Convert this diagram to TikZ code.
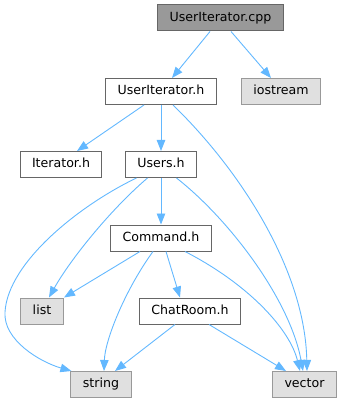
\documentclass[tikz,border=0pt]{standalone}
\usepackage{fontspec}
\setmainfont{DejaVu Sans}
\usetikzlibrary{arrows.meta}
\definecolor{edgeblue}{HTML}{63B8FF}
\definecolor{boxgray}{HTML}{666666}
\definecolor{extgray}{HTML}{999999}
\definecolor{extfill}{HTML}{E0E0E0}
\definecolor{rootfill}{HTML}{999999}
\tikzset{
  filebox/.style={draw=boxgray, fill=white, line width=1pt, inner xsep=12pt,
    inner ysep=0pt, minimum height=26pt, font=\fontsize{12.6}{15}\selectfont,
    text height=9.4pt, text depth=2.6pt},
  rootbox/.style={filebox, fill=rootfill},
  sysbox/.style={filebox, draw=extgray, fill=extfill},
  dep/.style={draw=edgeblue, line width=0.9pt,
    -{Triangle[length=11pt,width=8.5pt]}, fill=none},
}
\begin{document}
\begin{tikzpicture}[x=1pt,y=-1pt]
\useasboundingbox (0,0) rectangle (342,403);

% files
\node[rootbox] (cpp)      at (220.5,18)  {UserIterator.cpp};
\node[filebox] (uih)      at (161,91.5)  {UserIterator.h};
\node[sysbox]  (iostream) at (281,91.5)  {iostream};
\node[filebox] (iter)     at (61,164.5)  {Iterator.h};
\node[filebox] (users)    at (161,164.5) {Users.h};
\node[filebox] (cmd)      at (161,238)   {Command.h};
\node[sysbox]  (list)     at (42,311)    {list};
\node[filebox] (chat)     at (190,311)   {ChatRoom.h};
\node[sysbox]  (string)   at (101,384.5) {string};
\node[sysbox]  (vector)   at (304.5,384.5) {vector};

% straight dependencies
\draw[dep] ([xshift=-10.5pt]cpp.south) -- ([xshift=11pt]uih.north);
\draw[dep] ([xshift=10.5pt]cpp.south) -- ([xshift=-10pt]iostream.north);
\draw[dep] ([xshift=-17pt]uih.south) -- ([xshift=16pt]iter.north);
\draw[dep] (uih.south) -- (users.north);
\draw[dep] (users.south) -- (cmd.north);
\draw[dep] ([xshift=-21pt]cmd.south) -- ([xshift=22pt]list.north);
\draw[dep] ([xshift=5pt]cmd.south) -- ([xshift=-10pt]chat.north);
\draw[dep] ([xshift=-15pt]chat.south) -- ([xshift=14pt]string.north);
\draw[dep] ([xshift=19pt]chat.south) -- ([xshift=-18.5pt]vector.north);

% curved dependencies
\draw[dep] ([xshift=12pt]uih.south) .. controls (240,170) and (305,270) .. ([xshift=2.5pt]vector.north);
\draw[dep] ([xshift=-13.5pt]users.south) .. controls (110,210) and (70,260) .. ([xshift=7pt]list.north);
\draw[dep] ([xshift=-24.5pt]users.south) .. controls (80,205) and (8,262) .. (5,312)
  .. controls (3,340) and (40,362) .. ([xshift=1pt]string.north west);
\draw[dep] ([xshift=15.5pt]users.south) .. controls (230,220) and (290,300) .. ([xshift=-1.5pt]vector.north);
\draw[dep] ([xshift=-8pt]cmd.south) .. controls (125,290) and (105,340) .. ([xshift=3pt]string.north);
\draw[dep] ([xshift=24pt]cmd.south) .. controls (250,285) and (290,330) .. ([xshift=-4.5pt]vector.north);
\end{tikzpicture}
\end{document}
